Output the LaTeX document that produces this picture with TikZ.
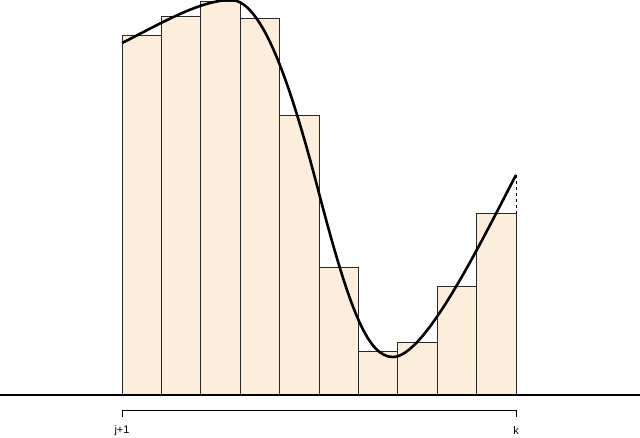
\documentclass[tikz,border=0pt]{standalone}
\usepackage{fontspec}
\setmainfont{Liberation Sans}
\definecolor{barfill}{RGB}{253,238,220}
\definecolor{barline}{RGB}{40,40,40}
\begin{document}
\begin{tikzpicture}[x=1pt,y=-1pt,
  bar/.style={fill=barfill,draw=barline,line width=1pt},
  curve/.style={line width=2.6pt,line join=round},
  lbl/.style={font=\fontsize{11}{13}\selectfont,inner sep=0pt}]
\useasboundingbox (0,0) rectangle (640,438);
\foreach \i/\t in {0/36,1/17,2/2,3/19,4/116,5/268,6/352,7/343,8/287,9/214}{
  \path[bar] ({122+\i*39.4},395) rectangle ({122+(\i+1)*39.4},\t);
}
\draw[line width=1.2pt] (0,395) -- (640,395);
\coordinate (c0) at (122,43);
\coordinate (cpk) at (231,0);
\coordinate (cin) at (320,197);
\coordinate (cmin) at (393,357);
\coordinate (ctop) at (516,175);
\coordinate (cbot) at (516,214);
\draw[curve] (c0) .. controls (160,24) and (200,0) .. (cpk)
  .. controls (265,0) and (295,101) .. (cin)
  .. controls (350,311) and (368,357) .. (cmin)
  .. controls (425,357) and (481,242) .. (ctop);
\draw[dashed,line width=0.6pt] (ctop) -- (cbot);
\coordinate (bl) at (122,417);
\coordinate (br) at (516,417);
\draw[line width=1pt] (bl) -- ++(0,-7) -- ([yshift=7pt]br) -- (br);
\node[lbl] (j) at (122,431) {j+1};
\node[lbl] (k) at (516,431) {k};
\end{tikzpicture}
\end{document}
